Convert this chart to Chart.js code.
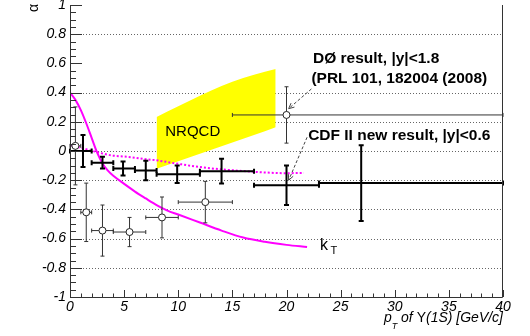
<!DOCTYPE html>
<html>
<head>
<meta charset="utf-8">
<script src="https://cdn.jsdelivr.net/npm/chart.js@4.4.0/dist/chart.umd.min.js"></script>
<style>
  html, body { margin: 0; padding: 0; background: #fff; }
</style>
</head>
<body>
<canvas id="alpha" width="530" height="336"></canvas>
<script>
// CDF II new result, |y|<0.6 (solid black crosses)
const cdfPt    = [1.2, 3.0, 4.9, 7.0, 9.9, 14.0, 20.0, 26.9];
const cdfLo    = [0, 2, 4, 6, 8, 12, 17, 23];
const cdfHi    = [2, 4, 6, 8, 12, 17, 23, 40];
const cdfAlpha = [0.0, -0.08, -0.12, -0.133, -0.16, -0.138, -0.235, -0.22];
const cdfErr   = [0.11, 0.04, 0.048, 0.067, 0.06, 0.085, 0.135, 0.26];

// D0 result, |y|<1.8 (open circles)
const d0Pt    = [0.5, 1.5, 3.0, 5.5, 8.5, 12.5, 20.0];
const d0Lo    = [0, 1, 2, 4, 7, 10, 15];
const d0Hi    = [1, 2, 4, 7, 10, 15, 40];
const d0Alpha = [0.035, -0.42, -0.545, -0.555, -0.455, -0.35, 0.247];
const d0Err   = [0.267, 0.2, 0.175, 0.1, 0.14, 0.142, 0.193];

// kT factorization prediction (solid magenta)
const ktPt    = [0, 0.5, 1, 1.5, 2, 2.5, 3, 3.5, 4, 5, 6, 7, 8, 9, 10, 12, 14, 16, 18, 20, 21.9];
const ktAlpha = [0.40, 0.35, 0.28, 0.19, 0.09, -0.01, -0.085, -0.135, -0.17, -0.225, -0.278, -0.325,
                 -0.37, -0.408, -0.435, -0.49, -0.545, -0.593, -0.622, -0.643, -0.658];

// dotted magenta curve
const dotPt    = [0, 1, 2, 3, 4, 5, 6, 7, 8, 10, 12, 14, 16, 18, 20, 21.6];
const dotAlpha = [0.04, 0.022, 0.002, -0.017, -0.032, -0.038, -0.046, -0.056, -0.064, -0.088,
                  -0.11, -0.126, -0.137, -0.147, -0.152, -0.15];

// NRQCD band
const nrqcdPt   = [8, 9, 10, 11, 12, 13, 14, 15, 16, 17, 18, 19];
const nrqcdHigh = [0.233, 0.27, 0.306, 0.342, 0.378, 0.412, 0.446, 0.475, 0.5, 0.523, 0.543, 0.562];
const nrqcdLow  = [-0.122, -0.096, -0.07, -0.045, -0.019, 0.007, 0.033, 0.058, 0.084, 0.11, 0.136, 0.162];

const xTicks = { min: 0, max: 40, step: 5, minor: 1 };
const yTicks = { min: -1, max: 1, step: 0.2, minor: 0.05 };

const FONT = "'Liberation Sans', Arial, Helvetica, sans-serif";

const toXY = (xs, ys) => xs.map((v, i) => ({ x: v, y: ys[i] }));

function drawCrosses(chart, pts, lo, hi, val, err, opt) {
  const { ctx, scales: { x, y } } = chart;
  ctx.save();
  ctx.strokeStyle = opt.color;
  ctx.lineWidth = opt.width;
  pts.forEach((p, i) => {
    const cx = x.getPixelForValue(p), cy = y.getPixelForValue(val[i]);
    const x0 = x.getPixelForValue(lo[i]), x1 = x.getPixelForValue(hi[i]);
    const y0 = y.getPixelForValue(val[i] + err[i]), y1 = y.getPixelForValue(val[i] - err[i]);
    const g = opt.gap, c = opt.cap;
    ctx.beginPath();
    ctx.moveTo(x0, cy); ctx.lineTo(cx - g, cy);
    ctx.moveTo(cx + g, cy); ctx.lineTo(x1, cy);
    ctx.moveTo(cx, y0); ctx.lineTo(cx, cy - g);
    ctx.moveTo(cx, cy + g); ctx.lineTo(cx, y1);
    ctx.moveTo(x0, cy - c); ctx.lineTo(x0, cy + c);
    ctx.moveTo(x1, cy - c); ctx.lineTo(x1, cy + c);
    ctx.moveTo(cx - c, y0); ctx.lineTo(cx + c, y0);
    ctx.moveTo(cx - c, y1); ctx.lineTo(cx + c, y1);
    ctx.stroke();
  });
  ctx.restore();
}

function arrow(ctx, x0, y0, x1, y1) {
  ctx.save();
  ctx.strokeStyle = '#444';
  ctx.lineWidth = 1;
  ctx.setLineDash([3, 2]);
  ctx.beginPath(); ctx.moveTo(x0, y0); ctx.lineTo(x1, y1); ctx.stroke();
  ctx.setLineDash([]);
  const ang = Math.atan2(y1 - y0, x1 - x0);
  ctx.beginPath();
  ctx.moveTo(x1 - 6 * Math.cos(ang - 0.45), y1 - 6 * Math.sin(ang - 0.45));
  ctx.lineTo(x1, y1);
  ctx.lineTo(x1 - 6 * Math.cos(ang + 0.45), y1 - 6 * Math.sin(ang + 0.45));
  ctx.stroke();
  ctx.restore();
}

const rootStyle = {
  id: 'rootStyle',
  beforeDatasetsDraw(chart) {
    const { ctx, chartArea: a, scales: { y } } = chart;
    ctx.save();
    ctx.strokeStyle = '#666';
    ctx.lineWidth = 1;
    ctx.setLineDash([1, 2]);
    y.ticks.forEach(t => {
      // the reference has no dotted line at 0.6
      if (Math.abs(t.value) > 0.99 || Math.abs(t.value - 0.6) < 1e-6) return;
      const py = Math.round(y.getPixelForValue(t.value)) + 0.5;
      ctx.beginPath(); ctx.moveTo(a.left + 13, py); ctx.lineTo(a.right, py); ctx.stroke();
    });
    ctx.restore();
  },
  afterDatasetsDraw(chart) {
    const { ctx, scales: { x, y } } = chart;
    drawCrosses(chart, d0Pt, d0Lo, d0Hi, d0Alpha, d0Err, { color: '#333', width: 1, gap: 3.5, cap: 2 });
    drawCrosses(chart, cdfPt, cdfLo, cdfHi, cdfAlpha, cdfErr, { color: '#000', width: 2, gap: 0, cap: 2.5 });

    arrow(ctx, x.getPixelForValue(22.3), y.getPixelForValue(0.425), x.getPixelForValue(20.2), y.getPixelForValue(0.29));
    arrow(ctx, x.getPixelForValue(21.9), y.getPixelForValue(0.094), x.getPixelForValue(20.2), y.getPixelForValue(-0.2));

    ctx.save();
    ctx.fillStyle = '#000';
    ctx.textBaseline = 'alphabetic';
    ctx.textAlign = 'left';
    ctx.font = `bold 15.5px ${FONT}`;
    ctx.fillText('DØ result, |y|<1.8', x.getPixelForValue(22.45), y.getPixelForValue(0.605));
    ctx.fillText('(PRL 101, 182004 (2008)', x.getPixelForValue(22.3), y.getPixelForValue(0.468));
    ctx.fillText('CDF II new result, |y|<0.6', x.getPixelForValue(22.0), y.getPixelForValue(0.076));
    ctx.font = `15px ${FONT}`;
    ctx.fillText('NRQCD', x.getPixelForValue(8.8), y.getPixelForValue(0.106));
    const kx = x.getPixelForValue(23.1), ky = y.getPixelForValue(-0.675);
    ctx.font = `16px ${FONT}`;
    ctx.fillText('k', kx, ky);
    ctx.font = `11px ${FONT}`;
    ctx.fillText('T', kx + ctx.measureText('k').width + 5, ky + 4);
    ctx.restore();
  },
  afterDraw(chart) {
    const { ctx, chartArea: a, scales: { x, y } } = chart;
    ctx.save();
    ctx.strokeStyle = '#333';
    ctx.lineWidth = 1;
    ctx.beginPath();
    ctx.moveTo(a.left + 0.5, a.top); ctx.lineTo(a.left + 0.5, a.bottom + 0.5);
    ctx.lineTo(a.right - 0.5, a.bottom + 0.5); ctx.lineTo(a.right - 0.5, a.top);
    ctx.stroke();

    ctx.beginPath();
    const nY = Math.round((yTicks.max - yTicks.min) / yTicks.minor);
    for (let i = 0; i <= nY; i++) {
      const v = yTicks.min + i * yTicks.minor;
      const py = Math.round(y.getPixelForValue(v)) + 0.5;
      const len = i % 4 === 0 ? 12 : 6;
      ctx.moveTo(a.left, py); ctx.lineTo(a.left + len, py);
    }
    const nX = Math.round((xTicks.max - xTicks.min) / xTicks.minor);
    for (let i = 0; i <= nX; i++) {
      const v = xTicks.min + i * xTicks.minor;
      const px = Math.round(x.getPixelForValue(v)) + 0.5;
      const len = i % 5 === 0 ? 7 : 3.5;
      ctx.moveTo(px, a.bottom); ctx.lineTo(px, a.bottom - len);
    }
    ctx.stroke();

    // axis titles
    ctx.fillStyle = '#000';
    ctx.textBaseline = 'alphabetic';
    const parts = [['p', `italic 14px ${FONT}`, 0], ['T', `italic 9px ${FONT}`, 7],
                   [' of ', `italic 14px ${FONT}`, 0], ['Υ', `14px ${FONT}`, 0],
                   ['(1S) [GeV/c]', `italic 14px ${FONT}`, 0]];
    let w = 0;
    parts.forEach(p => { ctx.font = p[1]; w += ctx.measureText(p[0]).width; });
    let tx = a.right - w, ty = 322;
    parts.forEach(p => {
      ctx.font = p[1];
      ctx.fillText(p[0], tx, ty + p[2]);
      tx += ctx.measureText(p[0]).width;
    });

    ctx.translate(34, 8);
    ctx.rotate(-Math.PI / 2);
    ctx.font = `14px ${FONT}`;
    ctx.textAlign = 'center';
    ctx.textBaseline = 'middle';
    ctx.fillText('α', 0, 0);
    ctx.restore();
  }
};

const alphaConfig = {
  type: 'scatter',
  data: {
    datasets: [
      {
        label: 'D0',
        data: toXY(d0Pt, d0Alpha),
        pointStyle: 'circle',
        pointRadius: 3.5,
        pointBackgroundColor: '#fff',
        pointBorderColor: '#222',
        pointBorderWidth: 1,
        showLine: false,
        order: 0,
      },
      {
        label: 'kT',
        type: 'line',
        data: toXY(ktPt, ktAlpha),
        borderColor: '#ff00ff',
        borderWidth: 2,
        pointRadius: 0,
        cubicInterpolationMode: 'monotone',
        fill: false,
        order: 2,
      },
      {
        label: 'dotted',
        type: 'line',
        data: toXY(dotPt, dotAlpha),
        borderColor: '#ff00ff',
        borderWidth: 2,
        borderDash: [2, 2],
        pointRadius: 0,
        cubicInterpolationMode: 'monotone',
        fill: false,
        order: 3,
      },
      {
        label: 'NRQCD low',
        type: 'line',
        data: toXY(nrqcdPt, nrqcdLow),
        borderWidth: 0,
        borderColor: 'rgba(0,0,0,0)',
        pointRadius: 0,
        fill: false,
        order: 5,
      },
      {
        label: 'NRQCD high',
        type: 'line',
        data: toXY(nrqcdPt, nrqcdHigh),
        borderWidth: 0,
        borderColor: 'rgba(0,0,0,0)',
        backgroundColor: '#ffff00',
        pointRadius: 0,
        fill: '-1',
        order: 4,
      },
    ],
  },
  options: {
    responsive: false,
    animation: false,
    layout: { padding: { top: 4, right: 27, bottom: 0, left: 0 } },
    plugins: { legend: { display: false }, tooltip: { enabled: false } },
    scales: {
      x: {
        type: 'linear',
        min: xTicks.min,
        max: xTicks.max,
        grid: { display: false, drawTicks: false },
        border: { display: false },
        ticks: {
          stepSize: xTicks.step,
          padding: 2,
          color: '#000',
          maxRotation: 0,
          font: { family: FONT, size: 14, style: 'italic' },
        },
        afterFit: (s) => { s.height = 39; s.paddingLeft = 0; s.paddingRight = 0; },
      },
      y: {
        min: yTicks.min,
        max: yTicks.max,
        grid: { display: false, drawTicks: false },
        border: { display: false },
        ticks: {
          stepSize: yTicks.step,
          padding: 4,
          color: '#000',
          font: { family: FONT, size: 14, style: 'italic' },
          callback: (v) => String(+v.toFixed(1)),
        },
        afterFit: (s) => { s.width = 70; s.paddingTop = 0; s.paddingBottom = 0; },
      },
    },
  },
  plugins: [rootStyle],
};

const alphaCtx = document.getElementById('alpha');
window.alphaChart = new Chart(alphaCtx, alphaConfig);
</script>
</body>
</html>
